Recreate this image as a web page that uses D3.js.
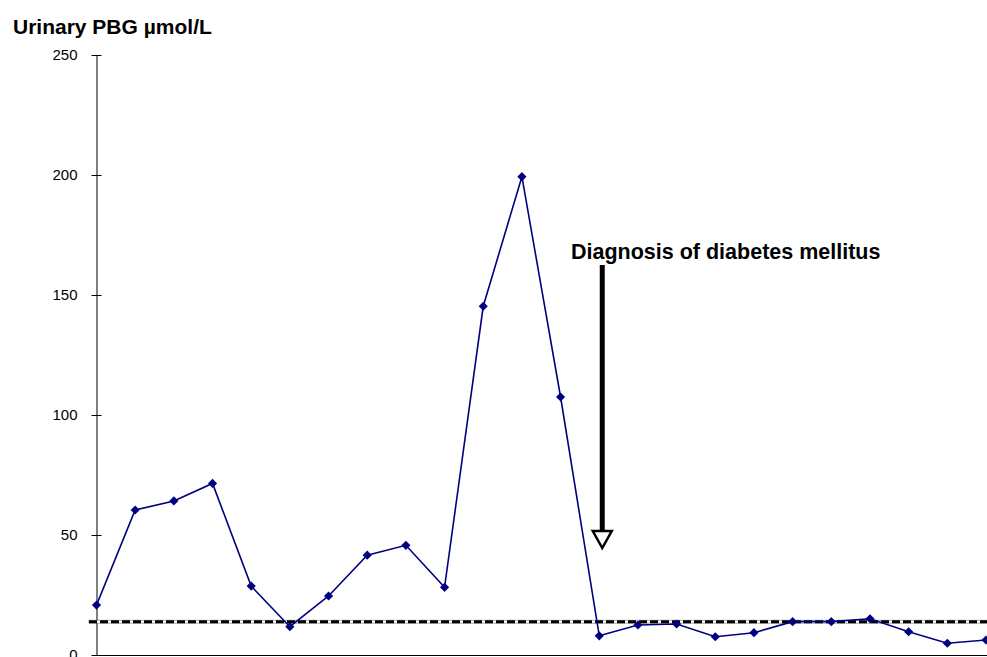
<!DOCTYPE html>
<html><head><meta charset="utf-8">
<script src="https://cdn.jsdelivr.net/npm/d3@7/dist/d3.min.js"></script>
<style>body{margin:0;background:#fff;overflow:hidden}svg{display:block}</style>
</head><body>
<script>
const samples = d3.range(1, 25);
const pbg = [20.8, 60.4, 64.2, 71.5, 28.7, 11.8, 24.6, 41.6, 45.7, 28.2, 145.3, 199.3, 107.5, 8.0, 12.5, 12.9, 7.6, 9.3, 13.9, 13.9, 15.1, 9.7, 4.9, 6.25];
const yTicks = [0, 50, 100, 150, 200, 250];
const upperNormal = 13.9;
const diagnosisIndex = 14;
const yTitle = "Urinary PBG µmol/L";
const annotation = "Diagnosis of diabetes mellitus";

const W = 987, H = 657;
const svg = d3.select("body").append("svg").attr("width", W).attr("height", H);
const x = d3.scalePoint().domain(samples).range([96.5, 986]);
const y = d3.scaleLinear().domain([0, 250]).range([655, 55]);
const font = "Arial, 'Liberation Sans', sans-serif";

// y axis
const ya = svg.append("g").attr("transform", "translate(96.5,0)")
  .call(d3.axisLeft(y).tickValues(yTicks).tickSize(5).tickSizeOuter(0).tickPadding(14));
ya.select(".domain").attr("stroke", "#000");
ya.selectAll(".tick line").attr("x2", 5).attr("x1", -5).attr("stroke", "#000");
ya.selectAll(".tick text").attr("font-family", font).attr("font-size", 15).attr("fill", "#000");

// x axis baseline
svg.append("line").attr("x1", 92).attr("x2", W).attr("y1", y(0) + 0.5).attr("y2", y(0) + 0.5)
  .attr("stroke", "#000").attr("stroke-width", 1);

// threshold dashed line
const ty = y(upperNormal);
svg.append("rect").attr("x", 89).attr("y", ty - 1.5).attr("width", W - 89).attr("height", 3)
  .attr("fill", "#fff").attr("stroke", "#555").attr("stroke-width", 0.5);
svg.append("line").attr("x1", 89).attr("x2", W).attr("y1", ty).attr("y2", ty)
  .attr("stroke", "#000").attr("stroke-width", 3).attr("stroke-dasharray", "8,3");

// series
const line = d3.line().x((d, i) => x(samples[i])).y(d => y(d));
svg.append("path").datum(pbg).attr("d", line).attr("fill", "none")
  .attr("stroke", "#000080").attr("stroke-width", 1.6);
svg.selectAll("path.pt").data(pbg).enter().append("path").attr("class", "pt")
  .attr("d", d3.symbol(d3.symbolSquare, 42))
  .attr("transform", (d, i) => `translate(${x(samples[i])},${y(d)}) rotate(45)`)
  .attr("fill", "#000080");

// title
svg.append("text").attr("x", 13).attr("y", 34).text(yTitle)
  .attr("font-family", font).attr("font-weight", "bold").attr("font-size", 21).attr("fill", "#000");

// annotation arrow
const ax = x(samples[diagnosisIndex - 1]) + 3;
svg.append("text").attr("x", 571).attr("y", 259).text(annotation)
  .attr("font-family", font).attr("font-weight", "bold").attr("font-size", 21.5).attr("fill", "#000");
svg.append("line").attr("x1", ax).attr("x2", ax).attr("y1", 265).attr("y2", 531)
  .attr("stroke", "#000").attr("stroke-width", 5);
svg.append("path").attr("d", `M${ax - 9.5},${531} L${ax + 9.5},${531} L${ax},${548} Z`)
  .attr("fill", "#fff").attr("stroke", "#000").attr("stroke-width", 2.5).attr("stroke-linejoin", "miter");
</script>
</body></html>
